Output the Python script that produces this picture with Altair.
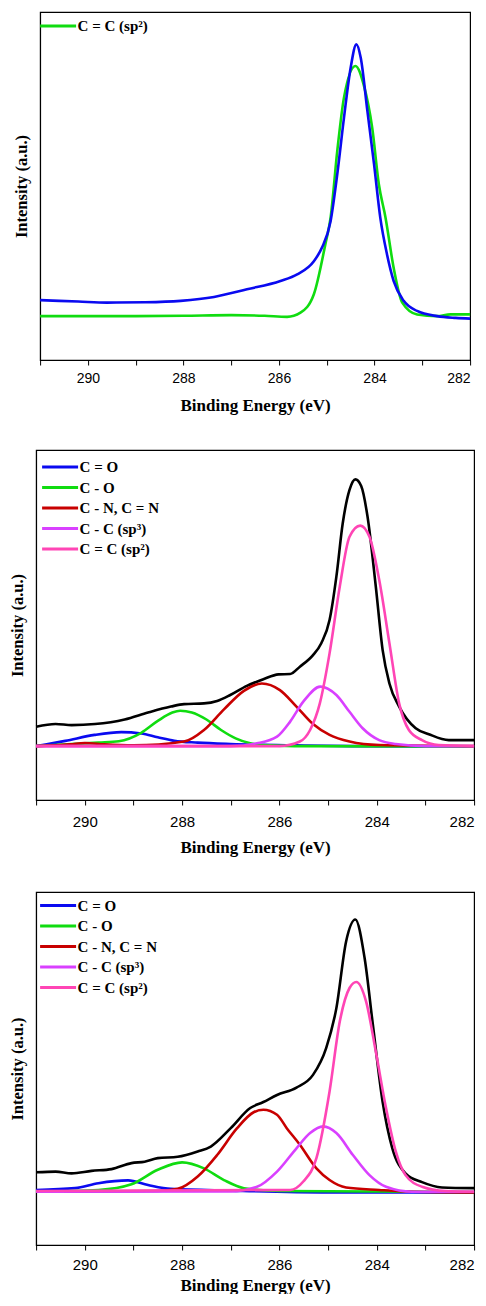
import altair as alt
import pandas as pd

# ---------------- Panel 1 (top) ----------------
A_SP2_E = [291.0, 290.0, 289.0, 288.0, 287.0, 286.3, 285.83, 285.55, 285.27, 285.03, 284.92, 284.78,
           284.64, 284.40, 284.22, 284.05, 283.91, 283.77, 283.60, 283.42, 283.11, 282.69, 282.41, 282.0]
A_SP2_I = [12.6, 12.6, 12.6, 12.7, 12.9, 12.7, 12.4, 13.6, 18.9, 33.2, 40.9, 60.1,
           75.4, 84.5, 78.7, 66.8, 50.5, 40.9, 26.5, 16.5, 13.1, 12.6, 13.1, 13.1]
A_RAW_E = [291.0, 290.2, 289.6, 288.8, 288.06, 287.36, 286.67, 285.97, 285.62, 285.27, 285.10, 284.92,
           284.78, 284.64, 284.50, 284.38, 284.29, 284.15, 284.01, 283.88, 283.74, 283.60, 283.39,
           283.11, 282.69, 282.3, 282.0]
A_RAW_I = [17.2, 16.8, 16.5, 16.6, 17.0, 18.1, 20.3, 22.7, 24.6, 28.4, 32.3, 39.9,
           53.4, 69.6, 84.0, 90.7, 86.9, 71.6, 56.2, 40.9, 30.4, 22.7, 17.0,
           14.1, 12.6, 12.1, 11.9]

# ---------------- Panel 2 (middle) ----------------
B_TOT_E = [291.0, 290.6, 290.27, 289.79, 289.18, 288.70, 288.23, 287.96, 287.55, 287.28, 287.01, 286.67,
           286.33, 286.02, 285.78, 285.58, 285.31, 285.14, 284.97, 284.83, 284.70, 284.56, 284.44, 284.32,
           284.19, 284.02, 283.88, 283.74, 283.54, 283.20, 282.93, 282.52, 282.0]
B_TOT_I = [20.9, 21.7, 21.4, 21.7, 23.0, 25.0, 26.7, 27.4, 27.6, 28.3, 30.0, 32.6,
           34.5, 35.9, 36.0, 38.1, 41.4, 44.8, 51.4, 63.8, 79.0, 88.6, 91.6, 89.7,
           81.0, 61.0, 42.9, 33.3, 26.7, 20.5, 18.8, 17.1, 17.1]
B_CO_E = [291.0, 290.4, 289.8, 289.25, 288.84, 288.5, 288.16, 287.68, 287.0, 285.65, 284.5, 282.0]
B_CO_I = [15.4, 16.9, 18.6, 19.4, 19.0, 17.9, 16.9, 16.4, 16.0, 15.6, 15.4, 15.3]
B_COS_E = [291.0, 289.72, 289.3, 288.84, 288.5, 288.2, 288.04, 287.8, 287.5, 287.2, 286.9, 286.6, 286.2, 285.5, 282.0]
B_COS_I = [15.4, 16.4, 16.8, 19.2, 22.6, 25.0, 25.5, 25.0, 23.0, 20.0, 17.6, 16.2, 15.6, 15.4, 15.3]
B_CN_E = [291.0, 290.3, 290.0, 289.6, 289.0, 287.96, 287.55, 287.14, 286.73, 286.36, 285.99, 285.65,
          285.31, 284.97, 284.56, 283.95, 282.0]
B_CN_I = [15.4, 15.9, 16.3, 15.9, 15.6, 16.7, 20.0, 25.9, 31.2, 33.3, 31.4, 26.7,
          21.7, 18.6, 16.7, 15.7, 15.4]
B_SP3_E = [291.0, 287.0, 286.46, 286.05, 285.78, 285.51, 285.16, 284.83, 284.56, 284.29, 283.95, 283.61, 283.0, 282.0]
B_SP3_I = [15.4, 15.4, 16.2, 18.1, 22.4, 28.1, 32.4, 30.0, 25.2, 20.5, 17.1, 16.0, 15.4, 15.4]
B_SP2_E = [291.0, 286.0, 285.58, 285.37, 285.17, 284.97, 284.76, 284.56, 284.34, 284.15, 283.95, 283.74,
           283.54, 283.34, 283.07, 282.73, 282.0]
B_SP2_I = [15.4, 15.4, 16.7, 20.0, 27.6, 41.9, 61.0, 75.2, 78.4, 75.2, 62.9, 44.8,
           27.6, 20.0, 17.1, 15.7, 15.4]

# ---------------- Panel 3 (bottom) ----------------
C_TOT_E = [291.0, 290.6, 290.27, 289.86, 289.45, 289.04, 288.77, 288.50, 288.09, 287.68, 287.41, 287.0,
           286.6, 286.33, 286.05, 285.65, 285.31, 285.04, 284.83, 284.63, 284.44, 284.25, 284.08, 283.88,
           283.68, 283.41, 283.07, 282.66, 282.0]
C_TOT_I = [20.6, 20.8, 20.3, 21.0, 21.5, 23.2, 23.6, 24.6, 25.0, 26.5, 27.9, 33.1,
           38.8, 40.5, 42.5, 44.6, 48.2, 55.8, 67.1, 86.0, 92.2, 81.3, 62.4, 40.6,
           27.4, 20.3, 17.8, 16.3, 16.1]
C_CO_E = [291.0, 290.2, 289.72, 289.11, 288.70, 288.23, 287.0, 285.0, 282.0]
C_CO_I = [15.6, 16.1, 17.5, 18.3, 17.0, 15.9, 15.4, 14.9, 14.9]
C_COS_E = [291.0, 289.72, 289.04, 288.5, 288.0, 287.55, 287.14, 286.73, 286.0, 282.0]
C_COS_I = [15.1, 15.6, 17.2, 21.3, 23.4, 21.7, 18.4, 16.1, 15.3, 15.0]
C_CN_E = [291.0, 288.5, 288.09, 287.68, 287.28, 286.87, 286.53, 286.33, 286.05, 285.85, 285.58, 285.24,
          284.97, 284.63, 283.95, 283.27, 282.0]
C_CN_I = [15.1, 15.3, 15.9, 19.4, 25.5, 33.1, 37.6, 38.3, 36.9, 33.1, 28.4, 21.7,
          18.4, 16.3, 15.6, 15.1, 14.9]
C_SP3_E = [291.0, 287.0, 286.46, 286.05, 285.65, 285.37, 285.10, 284.83, 284.49, 284.15, 283.81, 283.27, 282.0]
C_SP3_I = [15.1, 15.2, 16.5, 20.8, 27.4, 31.7, 33.6, 31.7, 25.5, 19.8, 16.5, 15.1, 15.1]
C_SP2_E = [291.0, 285.78, 285.51, 285.24, 284.97, 284.76, 284.56, 284.42, 284.22, 284.02, 283.81, 283.61,
           283.41, 283.07, 282.59, 282.0]
C_SP2_I = [15.3, 15.6, 18.0, 24.6, 43.5, 63.3, 72.8, 74.5, 69.0, 54.8, 38.8, 26.5,
           19.8, 16.5, 15.3, 15.1]

X_TICKS = [282, 283, 284, 285, 286, 287, 288, 289, 290, 291]

N_CO = "C = O"
N_COS = "C - O"
N_CN = "C - N, C = N"
N_SP3 = "C - C (sp³)"
N_SP2 = "C = C (sp²)"
N_TOT = "Envelope"
N_RAW = "Raw"

COLORS5 = {N_TOT: "#000000", N_CO: "#0a0af0", N_COS: "#10dc10", N_CN: "#c80000",
           N_SP3: "#d940ff", N_SP2: "#ff45b5"}


def frame(series):
    rows = []
    for order, (name, es, ys) in enumerate(series):
        for e, y in zip(es, ys):
            rows.append({"E": e, "I": y, "S": name, "k": order})
    return pd.DataFrame(rows)


SERIF = "Liberation Serif"
SANS = "Liberation Sans"


def panel(df, domain, rng, legend_vals, w, h, lx, ly, lab_size, lab_pad, title_pad):
    return alt.Chart(df).mark_line(strokeWidth=2.6, interpolate="monotone").encode(
        x=alt.X("E:Q",
                scale=alt.Scale(domain=[282, 291], reverse=True, nice=False, zero=False),
                axis=alt.Axis(title="Binding Energy (eV)", values=X_TICKS,
                              labelExpr="datum.value % 2 == 0 ? datum.label : ''",
                              grid=False, tickSize=5, tickColor="black", tickWidth=1,
                              domainColor="black", labelColor="black",
                              labelFont=SANS, labelFontSize=lab_size, labelPadding=lab_pad,
                              labelFlush=True, labelFlushOffset=0, labelOverlap=False,
                              titleFont=SERIF, titleFontWeight="bold", titleFontSize=17,
                              titleColor="black", titlePadding=title_pad)),
        y=alt.Y("I:Q",
                scale=alt.Scale(domain=[0, 100], nice=False, zero=False),
                axis=alt.Axis(title="Intensity (a.u.)", labels=False, ticks=False,
                              grid=False, domainColor="black",
                              titleFont=SERIF, titleFontWeight="bold", titleFontSize=16.5,
                              titleColor="black", titlePadding=11)),
        color=alt.Color("S:N", sort=domain,
                        scale=alt.Scale(domain=domain, range=rng),
                        legend=alt.Legend(values=legend_vals, title=None, orient="none",
                                          legendX=lx, legendY=ly,
                                          symbolType="M-1,0H5", symbolSize=144,
                                          symbolStrokeWidth=3, symbolFillColor="transparent",
                                          labelOffset=24, labelFont=SERIF, labelFontWeight="bold",
                                          labelFontSize=15, labelColor="black",
                                          rowPadding=4.5, padding=0)),
        detail="k:O",
    ).properties(width=w, height=h)


df1 = frame([(N_SP2, A_SP2_E, A_SP2_I), (N_RAW, A_RAW_E, A_RAW_I)])
p1 = panel(df1, [N_SP2, N_RAW], ["#10dc10", "#0a0af0"], [N_SP2],
           430, 348, -1.5, 6.5, 14, 6, 12)

order5 = [N_TOT, N_CO, N_COS, N_CN, N_SP3, N_SP2]
leg5 = [N_CO, N_COS, N_CN, N_SP3, N_SP2]
rng5 = [COLORS5[n] for n in order5]

df2 = frame([(N_TOT, B_TOT_E, B_TOT_I), (N_CO, B_CO_E, B_CO_I), (N_COS, B_COS_E, B_COS_I),
             (N_CN, B_CN_E, B_CN_I), (N_SP3, B_SP3_E, B_SP3_I), (N_SP2, B_SP2_E, B_SP2_I)])
p2 = panel(df2, order5, rng5, leg5, 438, 350, 4.5, 9.5, 15, 9, 10)

df3 = frame([(N_TOT, C_TOT_E, C_TOT_I), (N_CO, C_CO_E, C_CO_I), (N_COS, C_COS_E, C_COS_I),
             (N_CN, C_CN_E, C_CN_I), (N_SP3, C_SP3_E, C_SP3_I), (N_SP2, C_SP2_E, C_SP2_I)])
p3 = panel(df3, order5, rng5, leg5, 438, 353, 2.5, 6, 15, 7, 5)

chart = alt.vconcat(p1, p2, p3, spacing=35, center=True).resolve_scale(
    color="independent", x="independent", y="independent"
).resolve_legend(color="independent").properties(
    padding={"left": 0, "top": 3, "right": -3, "bottom": 0},
    background="white",
).configure_view(stroke="black", strokeWidth=1.2)

chart.save("out.html", embed_options={"renderer": "svg", "actions": False})
